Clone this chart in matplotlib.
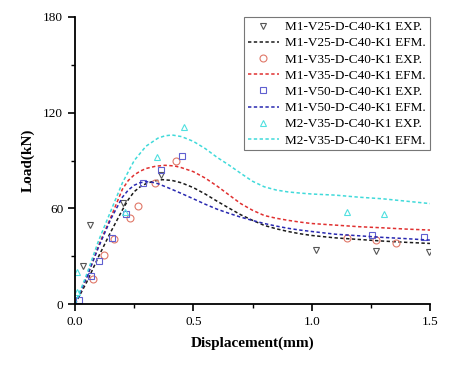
import matplotlib
matplotlib.use("Agg")
import matplotlib.pyplot as plt
from matplotlib.ticker import MultipleLocator, FormatStrFormatter

plt.rcParams['font.family'] = ['Liberation Serif', 'DejaVu Serif']

# experimental points (displacement mm, load kN)
v25_exp_x = [0.033, 0.063, 0.203, 0.364, 1.02, 1.27, 1.495]
v25_exp_y = [24.0, 49.5, 63.5, 81.0, 33.8, 33.2, 32.8]

v35_exp_x = [0.076, 0.124, 0.166, 0.231, 0.266, 0.338, 0.425, 1.15, 1.27, 1.355]
v35_exp_y = [15.9, 30.9, 41.0, 53.7, 61.4, 75.7, 89.4, 41.2, 40.1, 38.4]

v50_exp_x = [0.017, 0.066, 0.103, 0.156, 0.214, 0.286, 0.363, 0.451, 1.253, 1.474]
v50_exp_y = [2.5, 17.6, 27.2, 41.6, 56.4, 75.7, 84.0, 92.8, 43.3, 42.2]

m2_exp_x = [0.007, 0.01, 0.211, 0.345, 0.46, 1.148, 1.305]
m2_exp_y = [20.3, 7.7, 57.7, 92.0, 111.0, 57.9, 56.2]

# EFM curves
v25_efm_x = [0, 0.05, 0.1, 0.15, 0.2, 0.225, 0.25, 0.275, 0.3, 0.335, 0.37, 0.41, 0.45, 0.5,
             0.55, 0.6, 0.65, 0.7, 0.75, 0.8, 0.85, 0.9, 0.95, 1.0, 1.1, 1.2, 1.3, 1.4, 1.5]
v25_efm_y = [0, 14, 30, 45, 59, 65.5, 70.5, 73.5, 75.5, 77.2, 78, 77.5, 76, 73,
             69, 64.5, 60.2, 56, 52.5, 49.3, 47.2, 45.5, 44.1, 43, 41.5, 40.5, 39.5, 38.7, 38]

v35_efm_x = [0, 0.05, 0.1, 0.15, 0.2, 0.225, 0.25, 0.275, 0.3, 0.34, 0.38, 0.42, 0.45, 0.5,
             0.55, 0.6, 0.65, 0.7, 0.75, 0.8, 0.85, 0.9, 0.95, 1.0, 1.1, 1.2, 1.3, 1.4, 1.5]
v35_efm_y = [0, 17, 37, 54, 72, 77.5, 81, 83.3, 85, 86.4, 87, 86.6, 85.5, 83,
             79, 74, 68.5, 63, 58.8, 55.5, 53.8, 52.5, 51.4, 50.5, 49.5, 48.5, 47.8, 47, 46.4]

v50_efm_x = [0, 0.05, 0.1, 0.15, 0.2, 0.225, 0.25, 0.275, 0.3, 0.325, 0.35, 0.4, 0.45, 0.5,
             0.55, 0.6, 0.65, 0.7, 0.75, 0.8, 0.85, 0.9, 0.95, 1.0, 1.1, 1.2, 1.3, 1.4, 1.5]
v50_efm_y = [0, 17, 36, 53, 67, 71.5, 74.5, 76.1, 76.7, 76.4, 75.5, 72.5, 69.3, 66,
             62.6, 59.5, 56.9, 54.5, 52.4, 50.5, 48.9, 47.5, 46.4, 45.5, 43.8, 42.8, 41.8, 41, 40.1]

m2_efm_x = [0, 0.05, 0.1, 0.15, 0.2, 0.25, 0.3, 0.35, 0.38, 0.41, 0.45, 0.5, 0.55, 0.6,
            0.65, 0.7, 0.75, 0.8, 0.85, 0.9, 0.95, 1.0, 1.1, 1.2, 1.3, 1.4, 1.5]
m2_efm_y = [0, 19, 40, 58, 76, 90, 99, 104, 105.5, 106, 105, 102, 97.5, 92,
            87.2, 82, 77, 73.5, 71.5, 70.3, 69.6, 69, 68.3, 67, 66, 64.5, 63]

fig = plt.figure(figsize=(4.55, 3.69), dpi=100)
ax = fig.add_axes([0.165, 0.176, 0.78, 0.778])

dash = (0, (2.2, 1.6))
ms = 5

ax.plot(v25_exp_x, v25_exp_y, 'v', ms=ms, mfc='none', mec='#555555', mew=0.8, ls='none',
        label='M1-V25-D-C40-K1 EXP.')
ax.plot(v25_efm_x, v25_efm_y, color='#1a1a1a', lw=1.1, ls=dash, label='M1-V25-D-C40-K1 EFM.')
ax.plot(v35_exp_x, v35_exp_y, 'o', ms=ms, mfc='none', mec='#e07868', mew=0.8, ls='none',
        label='M1-V35-D-C40-K1 EXP.')
ax.plot(v35_efm_x, v35_efm_y, color='#e03030', lw=1.1, ls=dash, label='M1-V35-D-C40-K1 EFM.')
ax.plot(v50_exp_x, v50_exp_y, 's', ms=ms, mfc='none', mec='#6060d0', mew=0.8, ls='none',
        label='M1-V50-D-C40-K1 EXP.')
ax.plot(v50_efm_x, v50_efm_y, color='#2828b0', lw=1.1, ls=dash, label='M1-V50-D-C40-K1 EFM.')
ax.plot(m2_exp_x, m2_exp_y, '^', ms=ms, mfc='none', mec='#50e0e0', mew=0.8, ls='none',
        label='M2-V35-D-C40-K1 EXP.')
ax.plot(m2_efm_x, m2_efm_y, color='#40dada', lw=1.1, ls=dash, label='M2-V35-D-C40-K1 EFM.')

ax.set_xlim(0, 1.5)
ax.set_ylim(0, 180)
ax.xaxis.set_major_locator(MultipleLocator(0.5))
ax.xaxis.set_minor_locator(MultipleLocator(0.25))
ax.yaxis.set_major_locator(MultipleLocator(60))
ax.yaxis.set_minor_locator(MultipleLocator(30))
ax.xaxis.set_major_formatter(FormatStrFormatter('%.1f'))

for s in ['top', 'right']:
    ax.spines[s].set_visible(False)
for s in ['left', 'bottom']:
    ax.spines[s].set_linewidth(1.3)
ax.tick_params(which='major', direction='out', length=5, width=1.2, labelsize=9.5)
ax.tick_params(which='minor', direction='out', length=3, width=1.0)

ax.set_xlabel('Displacement(mm)', fontsize=11, fontweight='bold', labelpad=6)
ax.set_ylabel('Load(kN)', fontsize=11, fontweight='bold', labelpad=6)

leg = ax.legend(loc='upper right', bbox_to_anchor=(1.0, 1.0), fontsize=9.5, frameon=True,
                fancybox=False, handlelength=2.3, handletextpad=0.5, labelspacing=0.3,
                borderpad=0.3, borderaxespad=0.0)
leg.get_frame().set_edgecolor('#555555')
leg.get_frame().set_linewidth(0.8)

fig.savefig('out.png', dpi=100)
